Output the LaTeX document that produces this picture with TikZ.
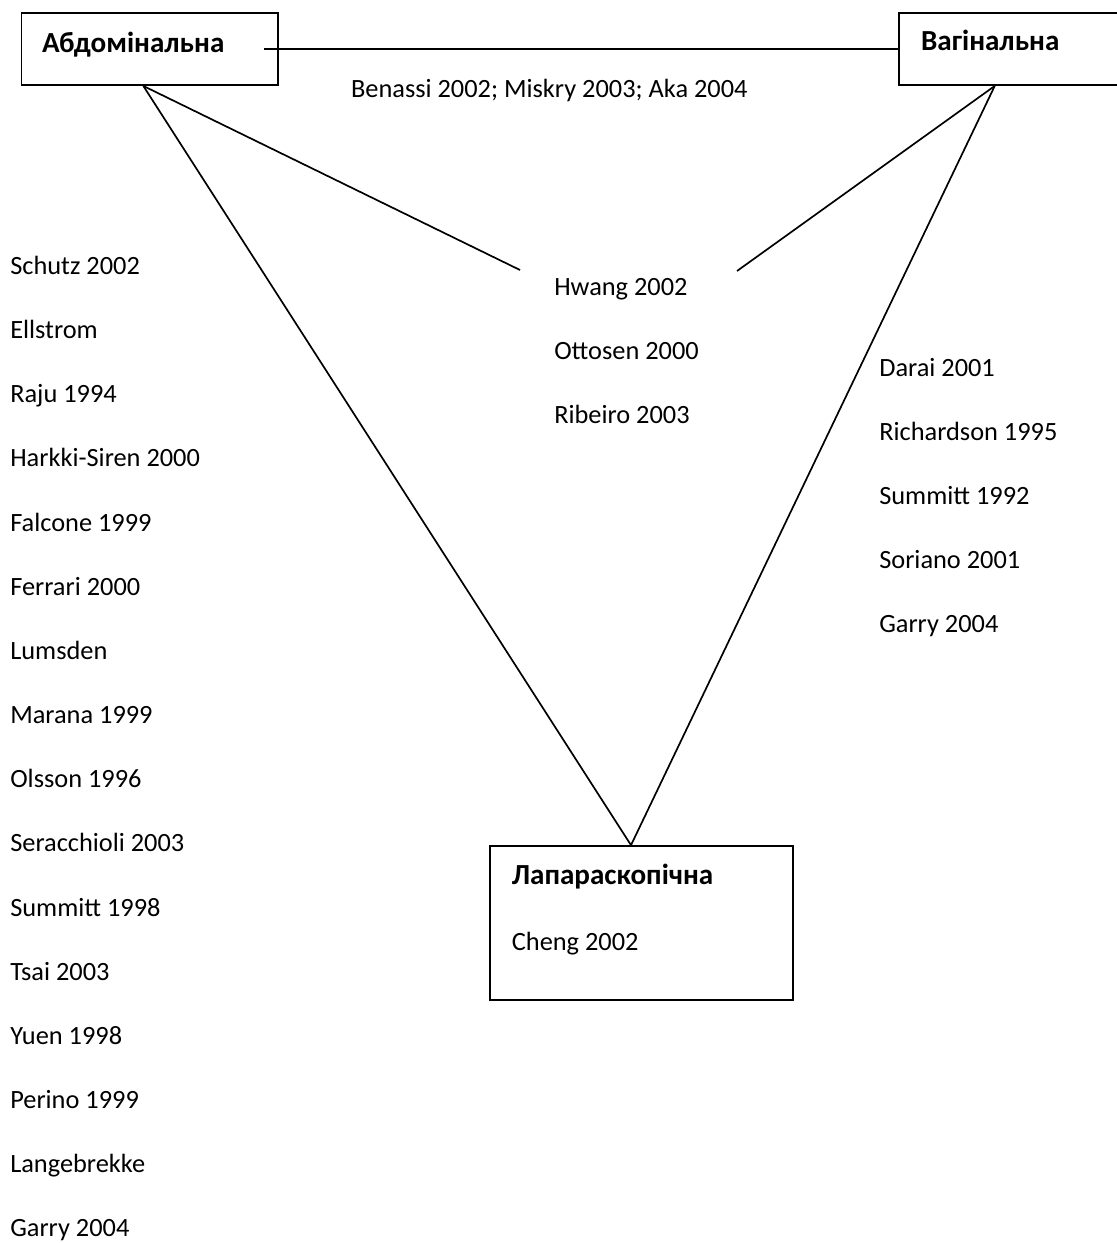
\documentclass[tikz,border=0pt]{standalone}
\usepackage{fontspec}
\setmainfont{Carlito}
\begin{document}
\begin{tikzpicture}[
            box/.style={
                rectangle,
                draw=black,
                line width=1.2pt,
                inner sep=0pt
            },
            title/.style={
                draw=none,
                inner sep=0pt,
                anchor=base west,
                font=\fontsize{20.7}{24}\selectfont\bfseries
            },
            item/.style={
                draw=none,
                inner sep=0pt,
                anchor=base west,
                font=\fontsize{18.75}{22}\selectfont
            },
            link/.style={-, line width=1.2pt}
        ]
        \clip (0,0) rectangle (27.925,-31.075);

        % Outer boxes
        \node[box, minimum width=6.415cm, minimum height=1.81cm] (box1) at (3.748,-1.222) {};
        \node[box, minimum width=10cm, minimum height=1.81cm] (box2) at (27.48,-1.222) {};
        \node[box, minimum width=7.575cm, minimum height=3.85cm] (box3) at (16.0375,-23.075) {};

        % Box titles
        \node[title] (t1) at (1.043,-1.3) {Абдомінальна};
        \node[title] (t2) at (23.02,-1.25) {Вагінальна};
        \node[title] (t3) at (12.79,-22.1) {Лапараскопічна};
        \node[item] (t3a) at (12.79,-23.75) {Cheng 2002};

        % Free ends of the short links
        \coordinate (e1) at (13.0,-6.75);
        \coordinate (e2) at (18.425,-6.775);

        % Connecting lines
        \draw[link] ([xshift=-0.38cm]box1.east) -- (box2.west);
        \draw[link] ([xshift=-0.165cm]box1.south) -- ([xshift=-0.2625cm]box3.north);
        \draw[link] ([xshift=-0.165cm]box1.south) -- (e1);
        \draw[link] ([xshift=2.41cm]box2.south west) -- ([xshift=-0.2625cm]box3.north);
        \draw[link] ([xshift=2.41cm]box2.south west) -- (e2);

        % Label of the top line
        \node[item] (top) at (8.77,-2.425) {Benassi 2002; Miskry 2003; Aka 2004};

        % Middle items
        \node[item] (m1) at (13.85,-7.375) {Hwang 2002};
        \node[item] (m2) at (13.85,-8.975) {Ottosen 2000};
        \node[item] (m3) at (13.85,-10.575) {Ribeiro 2003};

        % Right items
        \node[item] (r1) at (21.975,-9.42) {Darai 2001};
        \node[item] (r2) at (21.975,-11.02) {Richardson 1995};
        \node[item] (r3) at (21.975,-12.62) {Summitt 1992};
        \node[item] (r4) at (21.975,-14.22) {Soriano 2001};
        \node[item] (r5) at (21.975,-15.82) {Garry 2004};

        % Left items
        \node[item] (l1) at (0.25,-6.86) {Schutz 2002};
        \node[item] (l2) at (0.25,-8.464) {Ellstrom};
        \node[item] (l3) at (0.25,-10.068) {Raju 1994};
        \node[item] (l4) at (0.25,-11.672) {Harkki-Siren 2000};
        \node[item] (l5) at (0.25,-13.276) {Falcone 1999};
        \node[item] (l6) at (0.25,-14.88) {Ferrari 2000};
        \node[item] (l7) at (0.25,-16.484) {Lumsden};
        \node[item] (l8) at (0.25,-18.088) {Marana 1999};
        \node[item] (l9) at (0.25,-19.692) {Olsson 1996};
        \node[item] (l10) at (0.25,-21.296) {Seracchioli 2003};
        \node[item] (l11) at (0.25,-22.9) {Summitt 1998};
        \node[item] (l12) at (0.25,-24.504) {Tsai 2003};
        \node[item] (l13) at (0.25,-26.108) {Yuen 1998};
        \node[item] (l14) at (0.25,-27.712) {Perino 1999};
        \node[item] (l15) at (0.25,-29.316) {Langebrekke};
        \node[item] (l16) at (0.25,-30.92) {Garry 2004};

        \end{tikzpicture}
\end{document}
